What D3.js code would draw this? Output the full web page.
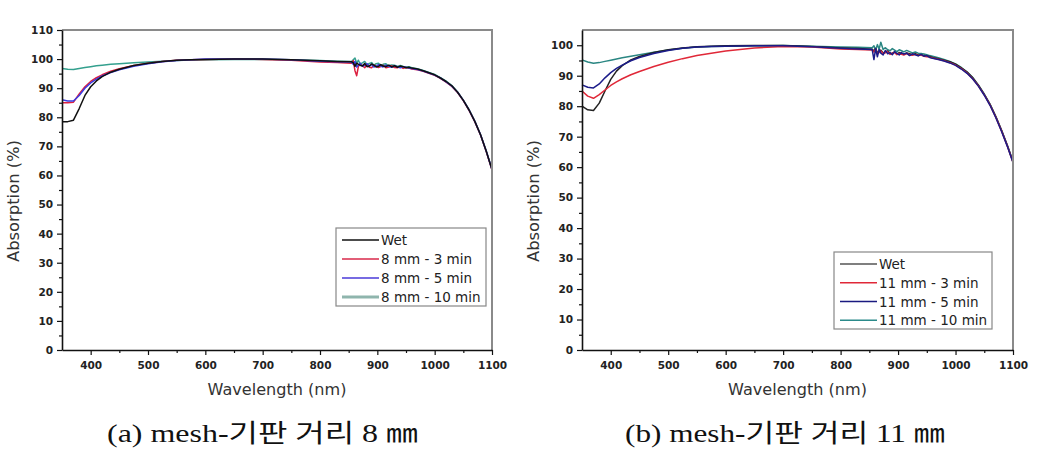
<!DOCTYPE html>
<html>
<head>
<meta charset="utf-8">
<script src="https://cdn.jsdelivr.net/npm/d3@7"></script>
<style>
  body { margin: 0; background: #fff; }
  svg { display: block; }
  .tick-label { font-family: "DejaVu Sans", sans-serif; font-weight: bold; font-size: 10.5px; fill: #222; }
  .axis-title { font-family: "DejaVu Sans", sans-serif; font-size: 15px; fill: #333; }
  .legend-label { font-family: "DejaVu Sans", sans-serif; font-size: 13.5px; fill: #222; }
  .caption { font-family: "Liberation Serif", "Noto Sans CJK KR", serif; font-size: 25px; fill: #111; }
</style>
</head>
<body>
<svg id="chart" width="1041" height="453"></svg>
<script>
// shared wavelength grid (nm); denser in the noisy 855-960 band
const wavelengths = [350, 360, 370, 380, 390, 400, 410, 420, 435, 450,
  475, 500, 525, 550, 575, 600, 650, 700, 750, 800,
  830, 855, 858, 861, 864, 867, 870, 874, 878, 882,
  886, 890, 894, 898, 902, 906, 910, 915, 920, 925,
  930, 935, 940, 945, 950, 955, 960, 970, 980, 990,
  1000, 1010, 1020, 1030, 1040, 1050, 1060, 1070, 1080, 1090, 1100];

const xTicks = [400, 500, 600, 700, 800, 900, 1000, 1100];
const yTicksA = [0, 10, 20, 30, 40, 50, 60, 70, 80, 90, 100, 110];
const yTicksB = [0, 10, 20, 30, 40, 50, 60, 70, 80, 90, 100];

// (a) mesh-substrate distance 8 mm
const namesA = ["Wet", "8 mm - 3 min", "8 mm - 5 min", "8 mm - 10 min"];
const wetA = [78.5, 78.5, 79.0, 83.0, 87.5, 90.5, 92.5, 94.0, 95.5, 96.5,
  97.8, 98.6, 99.2, 99.6, 99.8, 99.9, 100, 100, 99.8, 99.4,
  99.2, 99.1, 98.8, 97.5, 98.6, 98.2, 97.9, 97.6, 98.5, 97.4,
  97.6, 98.3, 97.9, 97.3, 97.5, 98.1, 97.6, 97.4, 97.9, 97.3,
  97.7, 97.2, 97.6, 97.4, 97.0, 97.2, 96.9, 96.6, 96.0, 95.3,
  94.6, 93.5, 92.3, 90.8, 88.6, 85.8, 82.5, 78.6, 74.0, 68.3, 62.0];
const min3A = [85.0, 85.0, 85.2, 88.0, 90.5, 92.3, 93.6, 94.6, 95.8, 96.7,
  97.8, 98.6, 99.2, 99.6, 99.8, 99.9, 100, 99.9, 99.6, 99.0,
  98.8, 98.6, 99.5, 96.0, 94.3, 97.5, 98.2, 97.8, 97.0, 98.1,
  97.2, 97.0, 97.9, 97.6, 97.1, 97.4, 97.9, 97.0, 97.3, 97.7,
  97.1, 97.0, 97.4, 96.8, 97.1, 96.9, 96.6, 96.3, 95.8, 95.1,
  94.4, 93.4, 92.1, 90.6, 88.5, 85.7, 82.4, 78.5, 73.9, 68.2, 61.9];
const min5A = [86.0, 85.6, 85.6, 87.5, 90.0, 91.8, 93.1, 94.2, 95.4, 96.3,
  97.5, 98.4, 99.1, 99.5, 99.8, 100, 100, 100, 99.8, 99.3,
  99.1, 99.0, 98.2, 99.2, 97.3, 98.0, 98.6, 97.5, 97.9, 98.4,
  97.6, 98.2, 97.3, 97.5, 98.1, 97.6, 97.3, 97.9, 97.5, 97.2,
  97.7, 97.4, 97.0, 97.4, 97.2, 96.9, 96.8, 96.4, 95.9, 95.2,
  94.5, 93.5, 92.2, 90.7, 88.6, 85.8, 82.5, 78.6, 74.0, 68.3, 62.0];
const min10A = [96.8, 96.5, 96.4, 96.8, 97.1, 97.4, 97.7, 97.9, 98.2, 98.4,
  98.7, 99.0, 99.3, 99.5, 99.7, 99.8, 99.9, 99.9, 99.8, 99.5,
  99.3, 99.2, 99.8, 100.4, 98.6, 99.6, 98.3, 98.7, 99.2, 98.1,
  98.5, 98.8, 97.9, 98.4, 98.6, 97.8, 98.2, 98.4, 97.7, 98.0,
  97.9, 97.5, 97.8, 97.5, 97.2, 97.4, 97.0, 96.7, 96.1, 95.4,
  94.7, 93.6, 92.4, 90.9, 88.7, 85.9, 82.6, 78.7, 74.1, 68.4, 62.1];

// (b) mesh-substrate distance 11 mm
const namesB = ["Wet", "11 mm - 3 min", "11 mm - 5 min", "11 mm - 10 min"];
const wetB = [80.0, 78.8, 78.6, 81.0, 85.0, 88.8, 91.5, 93.3, 95.2, 96.3,
  97.6, 98.5, 99.1, 99.5, 99.7, 99.8, 99.9, 99.9, 99.6, 99.1,
  98.9, 98.7, 98.2, 98.9, 97.6, 98.0, 98.4, 97.5, 97.8, 98.1,
  97.2, 97.4, 97.8, 97.1, 97.6, 97.3, 97.0, 97.5, 97.2, 96.9,
  97.2, 96.8, 96.9, 96.6, 96.5, 96.3, 96.0, 95.6, 95.1, 94.6,
  93.8, 92.6, 91.2, 89.3, 86.8, 83.9, 80.6, 76.6, 72.1, 67.2, 61.8];
const min3B = [85.0, 83.3, 82.6, 83.8, 85.3, 86.8, 88.0, 89.0, 90.3, 91.4,
  93.0, 94.4, 95.6, 96.6, 97.4, 98.1, 99.1, 99.6, 99.4, 98.8,
  98.6, 98.4, 97.8, 98.7, 97.2, 97.6, 98.1, 97.3, 97.5, 97.9,
  97.0, 97.4, 97.6, 96.9, 97.3, 97.0, 96.8, 97.3, 96.9, 96.7,
  97.0, 96.6, 96.8, 96.4, 96.2, 96.1, 95.8, 95.4, 94.9, 94.3,
  93.5, 92.3, 90.9, 89.0, 86.6, 83.7, 80.4, 76.4, 71.9, 67.0, 61.6];
const min5B = [87.0, 86.2, 86.0, 87.3, 89.3, 91.0, 92.4, 93.5, 94.9, 96.0,
  97.3, 98.3, 99.0, 99.4, 99.6, 99.7, 99.8, 99.8, 99.5, 99.0,
  98.8, 98.6, 95.3, 98.9, 96.2, 98.6, 97.4, 96.8, 98.3, 97.2,
  97.6, 96.9, 97.9, 97.3, 96.8, 97.6, 97.1, 97.4, 96.6, 97.2,
  96.9, 96.5, 97.0, 96.4, 96.6, 96.0, 95.7, 95.3, 94.8, 94.2,
  93.4, 92.2, 90.8, 88.9, 86.5, 83.6, 80.3, 76.3, 71.8, 66.9, 61.5];
const min10B = [95.2, 94.5, 94.1, 94.3, 94.7, 95.1, 95.5, 95.9, 96.4, 96.9,
  97.7, 98.4, 99.0, 99.4, 99.6, 99.7, 99.8, 99.9, 99.7, 99.4,
  99.3, 99.2, 99.8, 98.4, 100.2, 98.7, 101.0, 98.6, 99.2, 98.5,
  98.2, 98.9, 98.4, 97.9, 98.5, 98.2, 97.8, 98.3, 97.9, 97.5,
  97.8, 97.4, 97.3, 97.1, 96.9, 96.6, 96.4, 95.9, 95.3, 94.7,
  93.9, 92.7, 91.3, 89.4, 86.9, 84.0, 80.7, 76.7, 72.2, 67.3, 61.9];

const panels = [
  {
    left: 62, right: 492, top: 30, bottom: 350, yMax: 110, yTicks: yTicksA,
    names: namesA, values: [wetA, min3A, min5A, min10A],
    colors: ["#111111", "#dc2040", "#3a3ae0", "#34a08e"],
    legendColors: ["#111111", "#d8284a", "#4a3ad8", "#8fb5ad"],
    legendWidths: [1.4, 1.4, 1.4, 3],
    drawOrder: [3, 1, 2, 0],
    legend: { x: 336, y: 228, w: 150, h: 78 },
    caption: "(a) mesh-기판 거리 8 ㎜", captionX: 107, captionW: 311
  },
  {
    left: 582, right: 1013, top: 30, bottom: 350, yMax: 105, yTicks: yTicksB,
    names: namesB, values: [wetB, min3B, min5B, min10B],
    colors: ["#222222", "#e02838", "#1c1c8a", "#2a8682"],
    legendColors: ["#555555", "#e02838", "#1a1a80", "#2a8a8a"],
    legendWidths: [1.4, 1.4, 1.7, 1.4],
    drawOrder: [3, 0, 1, 2],
    legend: { x: 834, y: 252, w: 158, h: 77 },
    caption: "(b) mesh-기판 거리 11 ㎜", captionX: 625, captionW: 320
  }
];

const svg = d3.select("#chart");

panels.forEach(p => {
  const x = d3.scaleLinear().domain([350, 1100]).range([p.left, p.right]);
  const y = d3.scaleLinear().domain([0, p.yMax]).range([p.bottom, p.top]);
  const g = svg.append("g");

  // curves
  const line = d3.line().x(d => x(d[0])).y(d => y(d[1]));
  p.drawOrder.forEach(si => {
    const pts = wavelengths.map((w, i) => [w, p.values[si][i]]);
    g.append("path")
      .attr("d", line(pts))
      .attr("fill", "none")
      .attr("stroke", p.colors[si])
      .attr("stroke-width", 1.5)
      .attr("stroke-linejoin", "round");
  });

  // frame: gray top/right
  g.append("path")
    .attr("d", `M${p.left},${p.top}H${p.right}V${p.bottom}`)
    .attr("fill", "none").attr("stroke", "#8a8a8a").attr("stroke-width", 2);

  // bottom axis
  const xAxis = g.append("g").attr("transform", `translate(0,${p.bottom})`)
    .call(d3.axisBottom(x).tickValues(xTicks).tickSize(5).tickSizeOuter(0).tickFormat(d3.format("d")));
  xAxis.select(".domain").attr("stroke", "#111").attr("stroke-width", 1.6);
  xAxis.selectAll(".tick line").attr("stroke", "#111").attr("stroke-width", 1.2);
  xAxis.selectAll(".tick text").attr("class", "tick-label").attr("dy", null).attr("y", 19);
  g.append("g").attr("transform", `translate(0,${p.bottom})`)
    .call(d3.axisBottom(x).tickValues(d3.range(450, 1100, 100)).tickSize(3).tickSizeOuter(0).tickFormat(""))
    .call(a => a.select(".domain").remove())
    .selectAll("line").attr("stroke", "#111").attr("stroke-width", 1.2);

  // left axis
  const yAxis = g.append("g").attr("transform", `translate(${p.left},0)`)
    .call(d3.axisLeft(y).tickValues(p.yTicks).tickSize(5).tickSizeOuter(0).tickFormat(d3.format("d")));
  yAxis.select(".domain").attr("stroke", "#111").attr("stroke-width", 1.6);
  yAxis.selectAll(".tick line").attr("stroke", "#111").attr("stroke-width", 1.2);
  yAxis.selectAll(".tick text").attr("class", "tick-label").attr("x", -9);
  g.append("g").attr("transform", `translate(${p.left},0)`)
    .call(d3.axisLeft(y).tickValues(d3.range(5, p.yMax, 10)).tickSize(3).tickSizeOuter(0).tickFormat(""))
    .call(a => a.select(".domain").remove())
    .selectAll("line").attr("stroke", "#111").attr("stroke-width", 1.2);

  // axis titles
  g.append("text").attr("class", "axis-title")
    .attr("x", (p.left + p.right) / 2).attr("y", 395)
    .attr("text-anchor", "middle")
    .attr("textLength", 139).attr("lengthAdjust", "spacingAndGlyphs")
    .text("Wavelength (nm)");
  g.append("text").attr("class", "axis-title")
    .attr("transform", `translate(${p.left - 43},201) rotate(-90)`)
    .attr("text-anchor", "middle")
    .attr("textLength", 122).attr("lengthAdjust", "spacingAndGlyphs")
    .text("Absorption (%)");

  // legend
  const L = p.legend;
  const lg = g.append("g");
  lg.append("rect").attr("x", L.x).attr("y", L.y).attr("width", L.w).attr("height", L.h)
    .attr("fill", "#fff").attr("stroke", "#888").attr("stroke-width", 1.2);
  const rowH = (L.h - 2) / 4;
  p.names.forEach((name, i) => {
    const ry = L.y + 12 + i * rowH;
    lg.append("line")
      .attr("x1", L.x + 6).attr("x2", L.x + 43)
      .attr("y1", ry).attr("y2", ry)
      .attr("stroke", p.legendColors[i]).attr("stroke-width", p.legendWidths[i]);
    lg.append("text").attr("class", "legend-label")
      .attr("x", L.x + 45).attr("y", ry + 5)
      .text(name);
  });

  // caption
  svg.append("text").attr("class", "caption")
    .attr("x", p.captionX).attr("y", 442)
    .attr("textLength", p.captionW).attr("lengthAdjust", "spacingAndGlyphs")
    .text(p.caption);
});
</script>
</body>
</html>
